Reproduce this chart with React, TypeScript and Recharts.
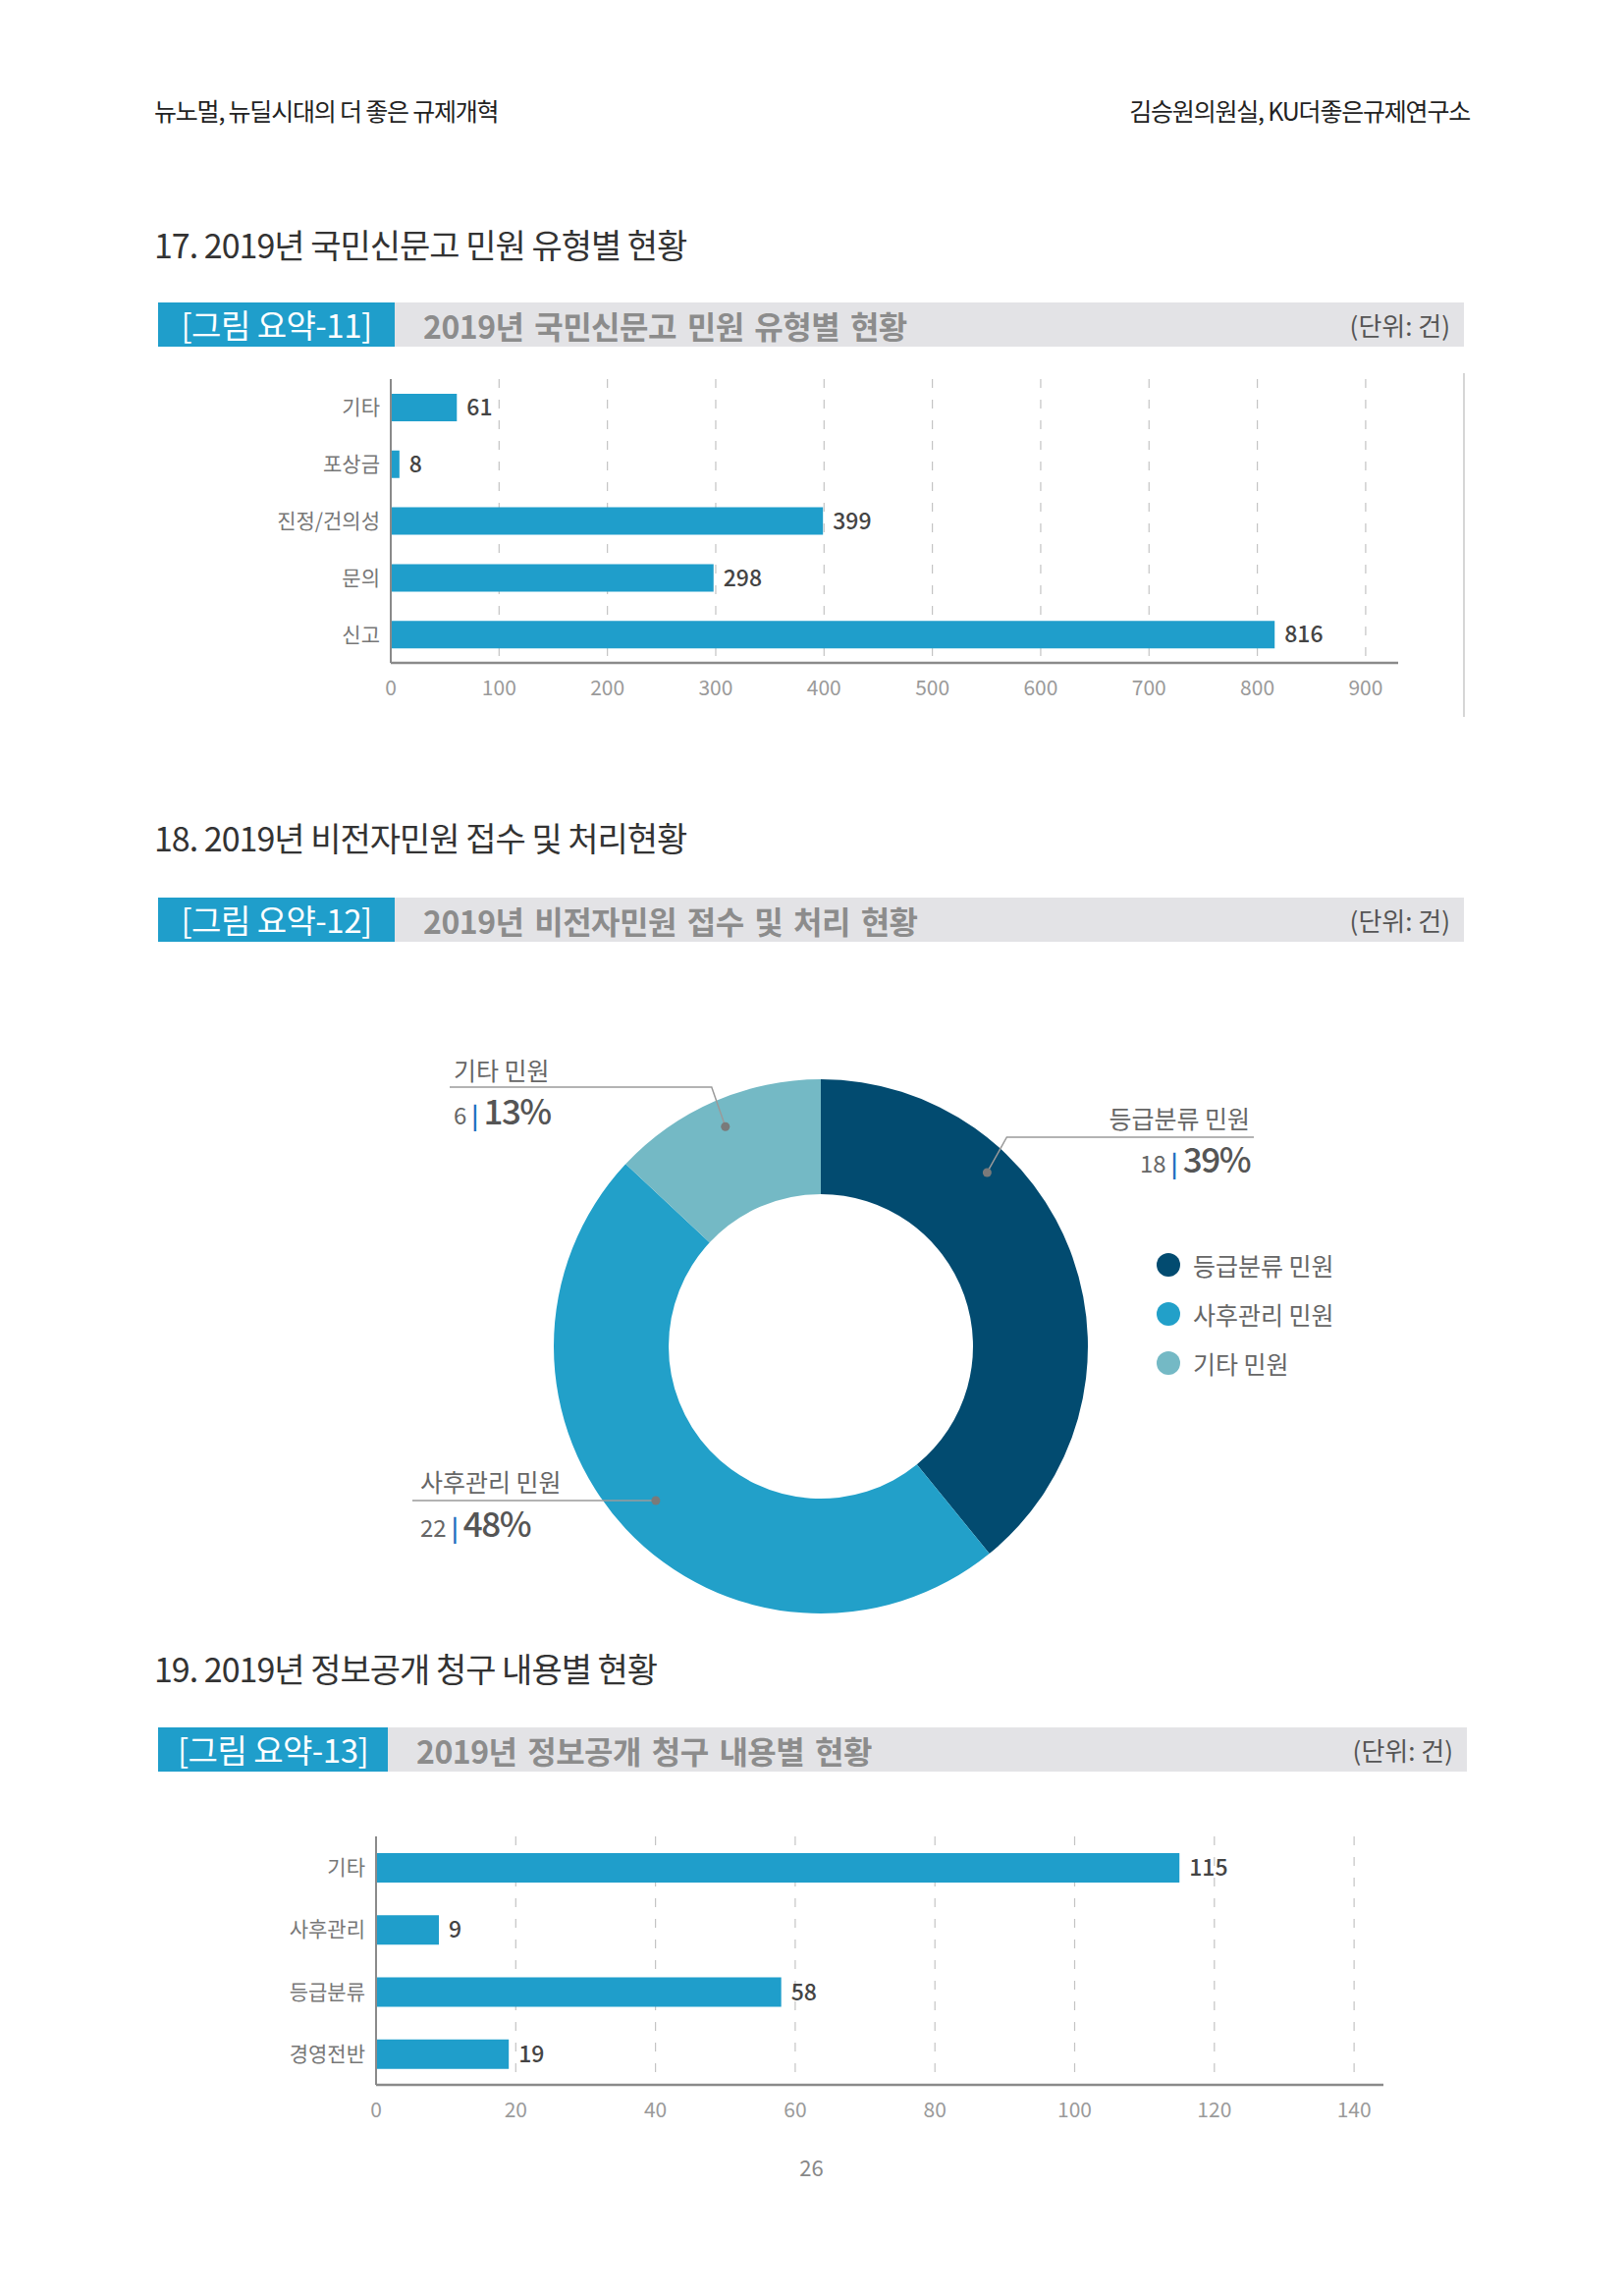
import {
  Bar,
  BarChart,
  CartesianGrid,
  Cell,
  LabelList,
  Legend,
  Pie,
  PieChart,
  XAxis,
  YAxis,
} from "recharts";

const FONT = '"Noto Sans CJK KR", "Noto Sans", sans-serif';
const BLUE = "#1f9ecb";

// 17. 국민신문고 민원 유형별
const petitionTypes = ["기타", "포상금", "진정/건의성", "문의", "신고"];
const petitionCounts = [61, 8, 399, 298, 816];
const petitionTicks = [0, 100, 200, 300, 400, 500, 600, 700, 800, 900];

// 18. 비전자민원 접수 및 처리
const paperTypes = ["등급분류 민원", "사후관리 민원", "기타 민원"];
const paperCounts = [18, 22, 6];
const paperColors = ["#024b70", "#22a0c9", "#74b9c5"];

// 19. 정보공개 청구 내용별
const disclosureTypes = ["기타", "사후관리", "등급분류", "경영전반"];
const disclosureCounts = [115, 9, 58, 19];
const disclosureTicks = [0, 20, 40, 60, 80, 100, 120, 140];

const petitionData = petitionTypes.map((name, i) => ({ name, value: petitionCounts[i] }));
const paperData = paperTypes.map((name, i) => ({ name, value: paperCounts[i] }));
const disclosureData = disclosureTypes.map((name, i) => ({ name, value: disclosureCounts[i] }));

function SectionTitle({ top, text }: { top: number; text: string }) {
  return (
    <div
      style={{
        position: "absolute",
        left: 157,
        top,
        fontSize: 34,
        color: "#333",
        letterSpacing: -1,
        lineHeight: "44px",
        whiteSpace: "nowrap",
      }}
    >
      {text}
    </div>
  );
}

function Banner({
  top,
  tag,
  title,
  tagWidth,
  right = 1494,
}: {
  top: number;
  tag: string;
  title: string;
  tagWidth: number;
  right?: number;
}) {
  return (
    <div
      style={{
        position: "absolute",
        left: 161,
        top,
        width: right - 161,
        height: 45,
        background: "#e3e3e6",
        display: "flex",
        alignItems: "center",
        whiteSpace: "nowrap",
      }}
    >
      <div
        style={{
          width: tagWidth,
          height: 45,
          background: BLUE,
          color: "#fff",
          fontSize: 33,
          lineHeight: "45px",
          textAlign: "center",
          letterSpacing: -0.5,
        }}
      >
        {tag}
      </div>
      <div
        style={{
          marginLeft: 29,
          fontSize: 32,
          fontWeight: 700,
          color: "#8c8c8c",
          wordSpacing: 4,
          letterSpacing: -0.5,
        }}
      >
        {title}
      </div>
      <div style={{ marginLeft: "auto", marginRight: 14, fontSize: 26, color: "#555" }}>(단위: 건)</div>
    </div>
  );
}

function HBarChart({
  data,
  ticks,
  domainMax,
  left,
  top,
  width,
  height,
  yAxisWidth,
  marginTop,
  marginRight,
  xAxisHeight,
  barSize,
}: {
  data: { name: string; value: number }[];
  ticks: number[];
  domainMax: number;
  left: number;
  top: number;
  width: number;
  height: number;
  yAxisWidth: number;
  marginTop: number;
  marginRight: number;
  xAxisHeight: number;
  barSize: number;
}) {
  return (
    <div style={{ position: "absolute", left, top }}>
      <BarChart
        width={width}
        height={height}
        data={data}
        layout="vertical"
        margin={{ top: marginTop, right: marginRight, bottom: 0, left: 0 }}
      >
        <CartesianGrid
          horizontal={false}
          verticalValues={ticks}
          strokeDasharray="9 12"
          stroke="#c4c4c4"
          strokeWidth={1.2}
        />
        <XAxis
          type="number"
          domain={[0, domainMax]}
          ticks={ticks}
          interval={0}
          height={xAxisHeight}
          axisLine={{ stroke: "#8a8a8a", strokeWidth: 2.5 }}
          tickLine={false}
          tickMargin={12}
          tick={{ fontSize: 21, fill: "#9a9a9a", fontFamily: FONT }}
          allowDataOverflow
        />
        <YAxis
          type="category"
          dataKey="name"
          width={yAxisWidth}
          axisLine={{ stroke: "#8a8a8a", strokeWidth: 2 }}
          tickLine={false}
          tickSize={0}
          tickMargin={11}
          tick={{ fontSize: 21, fill: "#777", fontFamily: FONT }}
        />
        <Bar dataKey="value" fill={BLUE} barSize={barSize} isAnimationActive={false}>
          <LabelList
            dataKey="value"
            position="right"
            offset={10}
            style={{ fontSize: 23, fill: "#444", fontWeight: 500, fontFamily: FONT }}
          />
        </Bar>
      </BarChart>
    </div>
  );
}

const RAD = Math.PI / 180;

// leader-label layout relative to donut centre (style only)
const pieLabelLayout: Record<
  string,
  {
    shift: number;
    dotR: number;
    elbowDx: number;
    lineY: number;
    lineEnd: number;
    anchor: "start" | "end";
    textX: number;
    nameY: number;
    valueY: number;
  }
> = {
  "등급분류 민원": { shift: 26.7, dotR: 245, elbowDx: 20, lineY: -213, lineEnd: 441, anchor: "end", textX: 437, nameY: -222, valueY: -177 },
  "사후관리 민원": { shift: 0, dotR: 230, elbowDx: 0, lineY: 157, lineEnd: -416, anchor: "start", textX: -408, nameY: 148, valueY: 194 },
  "기타 민원": { shift: 0, dotR: 244, elbowDx: -14, lineY: -264, lineEnd: -378, anchor: "start", textX: -374, nameY: -271, valueY: -226 },
};

function renderPieLabel(props: any) {
  const { cx, cy, midAngle, name, value, percent } = props;
  const l = pieLabelLayout[name];
  if (!l) return null;
  const a = (midAngle + l.shift) * RAD;
  const dx = cx + l.dotR * Math.cos(-a);
  const dy = cy + l.dotR * Math.sin(-a);
  const ex = dx + l.elbowDx;
  const ey = cy + l.lineY;
  return (
    <g>
      <polyline
        points={`${dx},${dy} ${ex},${ey} ${cx + l.lineEnd},${ey}`}
        fill="none"
        stroke="#9a9a9a"
        strokeWidth={1.5}
      />
      <circle cx={dx} cy={dy} r={4.5} fill="#7a7a7a" />
      <text x={cx + l.textX} y={cy + l.nameY} textAnchor={l.anchor} fontSize={25} fill="#666" fontFamily={FONT}>
        {name}
      </text>
      <text x={cx + l.textX} y={cy + l.valueY} textAnchor={l.anchor} fontFamily={FONT}>
        <tspan fontSize={24} fill="#666">{value}</tspan>
        <tspan fontSize={24} fill="#1e6fc0" fontWeight={700} dx={5}>|</tspan>
        <tspan fontSize={35} fill="#555" fontWeight={500} dx={5} letterSpacing={-1.5}>
          {Math.round(percent * 100)}%
        </tspan>
      </text>
    </g>
  );
}

function PieLegend() {
  return (
    <div style={{ fontFamily: FONT }}>
      {paperTypes.map((t, i) => (
        <div key={t} style={{ display: "flex", alignItems: "center", height: 50 }}>
          <span
            style={{
              width: 24,
              height: 24,
              borderRadius: 12,
              background: paperColors[i],
              display: "inline-block",
              marginRight: 13,
            }}
          />
          <span style={{ fontSize: 25, color: "#666" }}>{t}</span>
        </div>
      ))}
    </div>
  );
}

export default function App() {
  return (
    <div
      style={{
        position: "absolute",
        left: 0,
        top: 0,
        width: 1653,
        height: 2338,
        background: "#fff",
        fontFamily: FONT,
        overflow: "hidden",
      }}
    >
      <div style={{ position: "absolute", left: 157, top: 94, fontSize: 25, color: "#222", letterSpacing: -1.2 }}>
        뉴노멀, 뉴딜시대의 더 좋은 규제개혁
      </div>
      <div
        style={{
          position: "absolute",
          right: 1653 - 1497,
          top: 94,
          fontSize: 25,
          color: "#222",
          letterSpacing: -1.2,
        }}
      >
        김승원의원실, KU더좋은규제연구소
      </div>

      <SectionTitle top={227} text="17. 2019년 국민신문고 민원 유형별 현황" />
      <Banner top={308} tag="[그림 요약-11]" title="2019년 국민신문고 민원 유형별 현황" tagWidth={241} right={1491} />
      <div style={{ position: "absolute", left: 1490, top: 380, width: 2, height: 350, background: "#d6d6d6" }} />
      <HBarChart
        data={petitionData}
        ticks={petitionTicks}
        domainMax={930}
        left={160}
        top={368}
        width={1300}
        height={382}
        yAxisWidth={238}
        marginTop={18}
        marginRight={36}
        xAxisHeight={75}
        barSize={28}
      />

      <SectionTitle top={831} text="18. 2019년 비전자민원 접수 및 처리현황" />
      <Banner top={914} tag="[그림 요약-12]" title="2019년 비전자민원 접수 및 처리 현황" tagWidth={241} right={1491} />
      <div style={{ position: "absolute", left: 286, top: 1021 }}>
        <PieChart width={1100} height={700} margin={{ top: 0, right: 0, bottom: 0, left: 0 }}>
          <Pie
            data={paperData}
            dataKey="value"
            nameKey="name"
            cx={550}
            cy={350}
            innerRadius={155}
            outerRadius={272}
            startAngle={90}
            endAngle={-270}
            stroke="none"
            label={renderPieLabel}
            labelLine={false}
            isAnimationActive={false}
          >
            {paperData.map((d, i) => (
              <Cell key={d.name} fill={paperColors[i]} />
            ))}
          </Pie>
          <Legend
            layout="vertical"
            verticalAlign="middle"
            align="right"
            wrapperStyle={{ left: 892, top: 242, width: 230 }}
            content={() => <PieLegend />}
          />
        </PieChart>
      </div>

      <SectionTitle top={1677} text="19. 2019년 정보공개 청구 내용별 현황" />
      <Banner top={1759} tag="[그림 요약-13]" title="2019년 정보공개 청구 내용별 현황" tagWidth={234} right={1494} />
      <HBarChart
        data={disclosureData}
        ticks={disclosureTicks}
        domainMax={144.2}
        left={160}
        top={1855}
        width={1300}
        height={315}
        yAxisWidth={223}
        marginTop={15}
        marginRight={51}
        xAxisHeight={47}
        barSize={30}
      />
      <div
        style={{
          position: "absolute",
          left: 0,
          width: 1653,
          top: 2190,
          textAlign: "center",
          fontSize: 22,
          color: "#888",
        }}
      >
        26
      </div>
    </div>
  );
}
